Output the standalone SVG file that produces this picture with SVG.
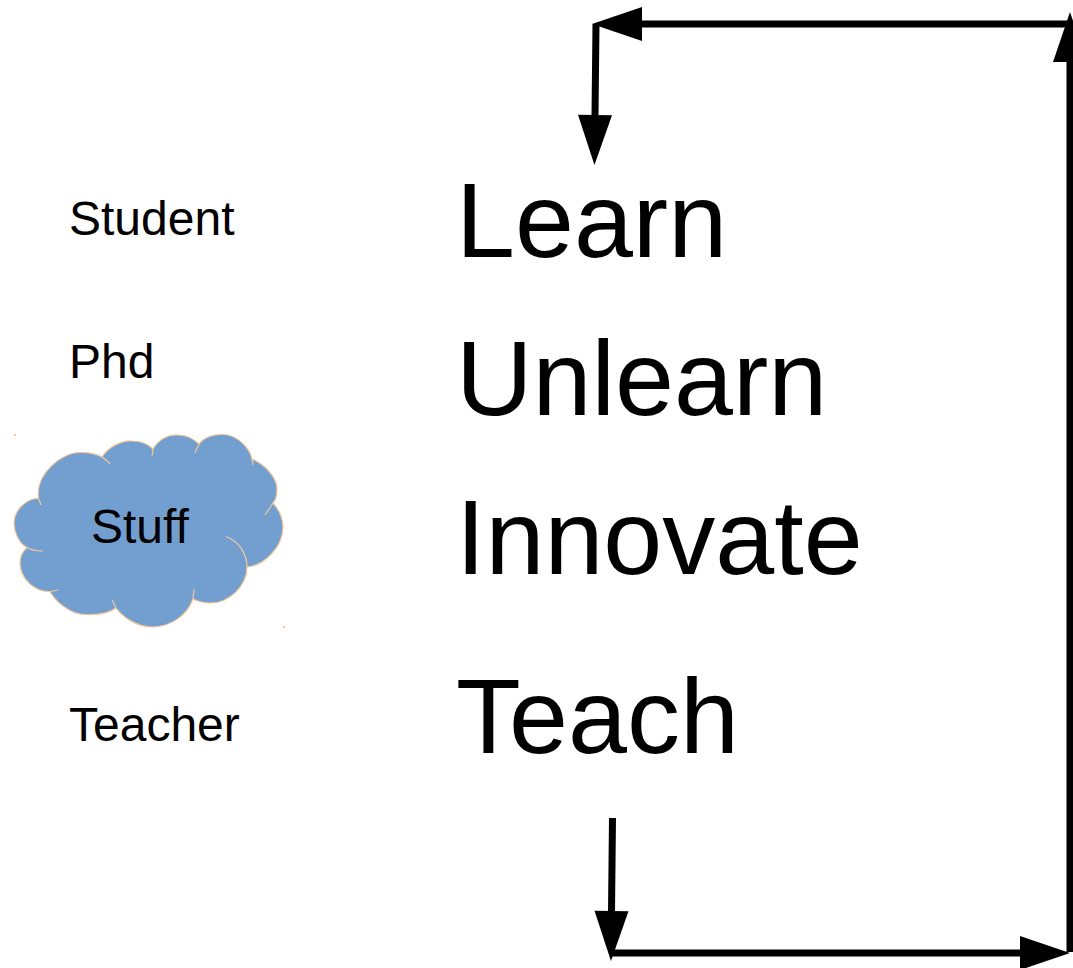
<svg xmlns="http://www.w3.org/2000/svg" width="1073" height="968" viewBox="0 0 1073 968">
<style>
text{font-family:"Liberation Sans",Arial,sans-serif;fill:#000}
.sm{font-size:48px}
.lg{font-size:106px}
.ln{fill:none;stroke:#000;stroke-width:7;marker-end:url(#head)}
.cloud{fill:#729fcf;stroke:#f4c99b;stroke-width:1.2}
.in{fill:none;stroke:#f4c99b;stroke-width:1.2}
.dot{fill:#f4c99b}
</style>
<defs>
<marker id="head" markerUnits="userSpaceOnUse" markerWidth="52" markerHeight="36" refX="0" refY="17" orient="auto" overflow="visible">
<path d="M0 0L50 17L0 34Z" fill="#000"/>
</marker>
</defs>
<rect width="1073" height="968" fill="#fff"/>
<g id="connectors">
<path class="ln" d="M1070 24L642 24"/>
<path class="ln" d="M596 24L595 115"/>
<path class="ln" d="M1070 952L1070 62"/>
<path class="ln" d="M612.500 818L611.500 911"/>
<path class="ln" d="M611 953L1020 953"/>
</g>
<g id="node-student"><text class="sm" x="69" y="235">Student</text></g>
<g id="node-phd"><text class="sm" x="69" y="378">Phd</text></g>
<g id="node-stuff">
<rect class="dot" x="14" y="434" width="2" height="2"/>
<rect class="dot" x="283" y="626" width="2" height="2"/>
<path class="cloud" d="M38.500 498.500C35 474 62 452 80 452.500C90 452 96 454 102 457C108 447 122 440 132 441C142 441 148 444 153 449C158 440 168 434 178 435C186 435 194 439 199 444C205 436 216 434 224 434.500C238 435 250 449 252 459C266 465 277 478 277 489C277 496 276 500 273 503C281 512 283 522 283 527C283 548 263 566 247 567C247 586 229 603 211 603C202 603 197 601 193 599C187 616 170 627 152 627C135 627 121 615 116 608C107 615 90 615 80 614C68 612 55 601 50 591.500C34 592 20 578 20 563C20 556 23 551 27 547.500C19 544 14 532 14 523C14 510 27 498 38.500 498.500Z"/>
<path class="in" d="M38.500 498.500L41 505M102 457C105 459 108 461 110 464M153 449L152 456M199 444L195 453M252 459L253 465M273 503L265 515M226 536.500C238 541 247 553 247 567M193 599L194 589M116 608L112 600M50 591.500L58 590M27 547.500C31 550 37 551 43 551"/>
<text class="sm" x="91" y="543">Stuff</text>
</g>
<g id="node-learn"><text class="lg" x="456" y="257">Learn</text></g>
<g id="node-unlearn"><text class="lg" x="456" y="415">Unlearn</text></g>
<g id="node-innovate"><text class="lg" x="456" y="574">Innovate</text></g>
<g id="node-teach"><text class="lg" x="456" y="753">Teach</text></g>
<g id="node-teacher"><text class="sm" x="69" y="741">Teacher</text></g>
</svg>
